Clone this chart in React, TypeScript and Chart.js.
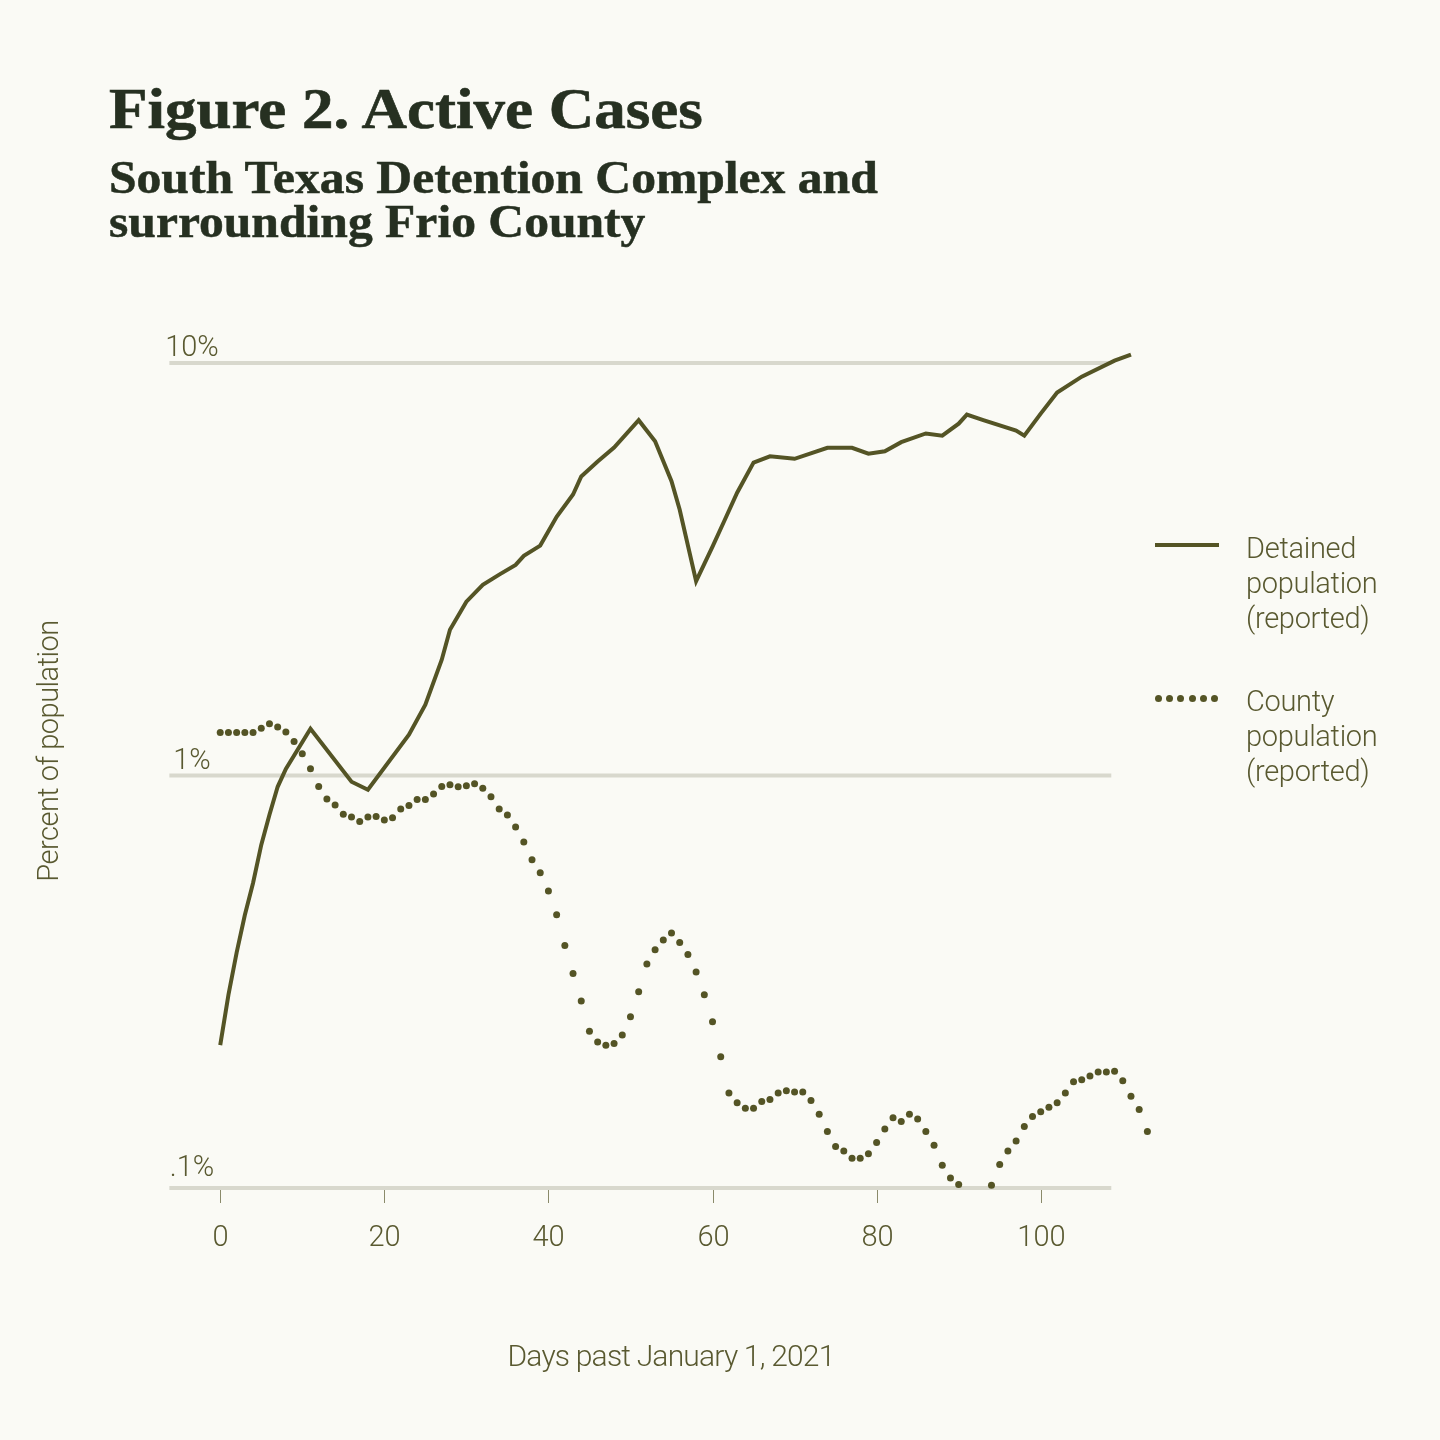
import React, { useEffect, useRef } from "react";
import { Chart, registerables } from "chart.js";

Chart.register(...registerables);

// ---------- data ----------
const detainedDays = [
  0, 1, 2, 3, 4, 5, 6, 7, 8, 11, 16, 18, 23, 25, 27, 28, 30, 32, 34, 36, 37, 39,
  41, 43, 44, 46, 48, 51, 53, 55, 56, 58, 60, 61.5, 63, 65, 67, 70, 74, 77, 79,
  81, 83, 86, 88, 90, 91, 93, 97, 98, 100, 102, 105, 109, 111,
];
const detainedPct = [
  0.222, 0.294, 0.372, 0.459, 0.549, 0.679, 0.803, 0.939, 1.038, 1.299, 0.966,
  0.924, 1.256, 1.485, 1.909, 2.257, 2.64, 2.9, 3.07, 3.24, 3.41, 3.61, 4.24,
  4.8, 5.31, 5.77, 6.24, 7.27, 6.46, 5.17, 4.41, 2.96, 3.59, 4.17, 4.85, 5.74,
  5.94, 5.86, 6.23, 6.23, 6.03, 6.11, 6.43, 6.75, 6.67, 7.13, 7.5, 7.27, 6.86,
  6.67, 7.54, 8.48, 9.27, 10.14, 10.49,
];

// county value for each day, starting at day 0
const countyPct = [
  1.272, 1.272, 1.272, 1.272, 1.272, 1.303, 1.335, 1.311, 1.275, 1.209, 1.129,
  1.038, 0.941, 0.877, 0.848, 0.806, 0.793, 0.774, 0.793, 0.796, 0.78, 0.79,
  0.83, 0.846, 0.875, 0.875, 0.902, 0.941, 0.95, 0.939, 0.944, 0.955, 0.932,
  0.888, 0.83, 0.802, 0.75, 0.69, 0.625, 0.581, 0.525, 0.46, 0.387, 0.331,
  0.284, 0.24, 0.226, 0.222, 0.224, 0.235, 0.26, 0.299, 0.349, 0.378, 0.399,
  0.415, 0.394, 0.368, 0.334, 0.294, 0.253, 0.208, 0.17, 0.161, 0.156, 0.156,
  0.162, 0.164, 0.17, 0.172, 0.171, 0.171, 0.163, 0.151, 0.137, 0.126, 0.123,
  0.118, 0.118, 0.121, 0.129, 0.139, 0.148, 0.145, 0.151, 0.147, 0.137, 0.127,
  0.1135, 0.1057, 0.102, 0.09, 0.087, 0.091, 0.1015, 0.114, 0.123, 0.13, 0.141,
  0.149, 0.153, 0.157, 0.161, 0.17, 0.181, 0.183, 0.187, 0.191, 0.191, 0.192,
  0.182, 0.167, 0.155, 0.137,
];

const yTickValues = [10, 1, 0.1];
const yTickLabels = ["10%", "1%", ".1%"];
const xTickValues = [0, 20, 40, 60, 80, 100];
const xTickLabels = ["0", "20", "40", "60", "80", "100"];

const titleText = "Figure 2. Active Cases";
const subtitleLines = ["South Texas Detention Complex and", "surrounding Frio County"];
const xAxisTitle = "Days past January 1, 2021";
const yAxisTitle = "Percent of population";
const legendDetained = ["Detained", "population", "(reported)"];
const legendCounty = ["County", "population", "(reported)"];

// ---------- styles ----------
const BG = "#fafaf5";
const INK = "#545425";
const LABEL = "#595930";
const TITLE = "#263021";
const GRID = "#d8d8cd";
const SANS = "Roboto, 'Open Sans', sans-serif";
const SERIF = "'Liberation Serif', 'Times New Roman', serif";

const axesPlugin = {
  id: "customAxes",
  beforeDatasetsDraw(chart: any) {
    const { ctx, scales, chartArea } = chart;
    const xs = scales.x;
    const ys = scales.y;
    const gx0 = xs.getPixelForValue(-6.2);
    const gx1 = xs.getPixelForValue(108.6);
    ctx.save();
    // gridlines + y labels
    ctx.lineWidth = 4;
    ctx.strokeStyle = GRID;
    ctx.fillStyle = LABEL;
    ctx.font = `300 29px ${SANS}`;
    ctx.textAlign = "center";
    ctx.textBaseline = "alphabetic";
    yTickValues.forEach((v, i) => {
      const py = ys.getPixelForValue(v);
      ctx.beginPath();
      ctx.moveTo(gx0, py);
      ctx.lineTo(gx1, py);
      ctx.stroke();
      ctx.fillText(yTickLabels[i], chartArea.left + 21, py - (i === 2 ? 12 : 7));
    });
    // x ticks + labels
    const bottom = ys.getPixelForValue(0.1);
    ctx.lineWidth = 1;
    ctx.strokeStyle = "#8a8a6a";
    xTickValues.forEach((v, i) => {
      const px = Math.round(xs.getPixelForValue(v)) + 0.5;
      ctx.beginPath();
      ctx.moveTo(px, bottom + 2);
      ctx.lineTo(px, bottom + 15);
      ctx.stroke();
      ctx.fillText(xTickLabels[i], px, bottom + 58);
    });
    ctx.restore();
  },
};

export default function App() {
  const ref = useRef<HTMLCanvasElement | null>(null);

  useEffect(() => {
    if (!ref.current) return;
    const chart = new Chart(ref.current, {
      type: "line",
      data: {
        datasets: [
          {
            label: "County population (reported)",
            data: countyPct.map((v, i) => ({ x: i, y: v })),
            showLine: false,
            pointRadius: 3.5,
            pointBorderWidth: 0,
            pointBackgroundColor: INK,
            borderColor: INK,
            clip: { left: 10, right: 10, top: 10, bottom: 4 } as any,
          },
          {
            label: "Detained population (reported)",
            data: detainedDays.map((d, i) => ({ x: d, y: detainedPct[i] })),
            borderColor: INK,
            borderWidth: 4,
            pointRadius: 0,
            tension: 0,
            borderJoinStyle: "miter",
            clip: false as any,
          },
        ],
      },
      options: {
        responsive: false,
        animation: false,
        devicePixelRatio: 1,
        layout: { padding: { left: 171, right: 268, top: 346, bottom: 252 } },
        plugins: {
          legend: { display: false },
          tooltip: { enabled: false },
          title: { display: false },
        },
        scales: {
          x: { type: "linear", min: -6, max: 116, display: false },
          y: { type: "logarithmic", min: 0.1, max: 11, display: false },
        },
      },
      plugins: [axesPlugin],
    });
    return () => chart.destroy();
  }, []);

  const abs = (s: React.CSSProperties): React.CSSProperties => ({
    position: "absolute",
    margin: 0,
    whiteSpace: "nowrap",
    ...s,
  });

  const legendText: React.CSSProperties = {
    fontFamily: SANS,
    fontWeight: 300,
    fontSize: 29,
    lineHeight: "35px",
    color: LABEL,
    letterSpacing: "-0.3px",
  };

  return (
    <div
      style={{
        position: "absolute",
        left: 0,
        top: 0,
        width: 1440,
        height: 1440,
        background: BG,
        overflow: "hidden",
      }}
    >
      <canvas
        ref={ref}
        width={1440}
        height={1440}
        style={{ position: "absolute", left: 0, top: 0, width: 1440, height: 1440 }}
      />
      <div
        style={abs({
          left: 109,
          top: 81,
          fontFamily: SERIF,
          fontWeight: 700,
          fontSize: 56,
          lineHeight: "56px",
          color: TITLE,
          transform: "scaleX(1.125)",
          transformOrigin: "left top",
          WebkitTextStroke: `0.6px ${TITLE}`,
        })}
      >
        {titleText}
      </div>
      <div
        style={abs({
          left: 109,
          top: 156,
          fontFamily: SERIF,
          fontWeight: 700,
          fontSize: 46,
          lineHeight: "44px",
          color: TITLE,
          transform: "scaleX(1.078)",
          transformOrigin: "left top",
          WebkitTextStroke: `0.5px ${TITLE}`,
        })}
      >
        {subtitleLines.map((l) => (
          <div key={l}>{l}</div>
        ))}
      </div>

      {/* legend */}
      <div style={abs({ left: 1155, top: 543, width: 64, height: 4, background: INK })} />
      <div style={abs({ left: 1246, top: 531, ...legendText })}>
        {legendDetained.map((l) => (
          <div key={l}>{l}</div>
        ))}
      </div>
      {[0, 1, 2, 3, 4, 5].map((k) => (
        <div
          key={k}
          style={abs({
            left: 1155 + k * 11.2,
            top: 694.5,
            width: 7,
            height: 7,
            borderRadius: "50%",
            background: INK,
          })}
        />
      ))}
      <div style={abs({ left: 1246, top: 684, ...legendText })}>
        {legendCounty.map((l) => (
          <div key={l}>{l}</div>
        ))}
      </div>

      {/* axis titles */}
      <div
        style={abs({
          left: 371,
          top: 1341,
          width: 600,
          textAlign: "center",
          fontFamily: SANS,
          fontWeight: 300,
          fontSize: 30,
          lineHeight: "30px",
          letterSpacing: "-0.8px",
          color: LABEL,
        })}
      >
        {xAxisTitle}
      </div>
      <div
        style={abs({
          left: 47.5 - 200,
          top: 751 - 15,
          width: 400,
          height: 30,
          textAlign: "center",
          transform: "rotate(-90deg)",
          fontFamily: SANS,
          fontWeight: 300,
          fontSize: 29,
          lineHeight: "30px",
          letterSpacing: "-0.5px",
          color: LABEL,
        })}
      >
        {yAxisTitle}
      </div>
    </div>
  );
}
